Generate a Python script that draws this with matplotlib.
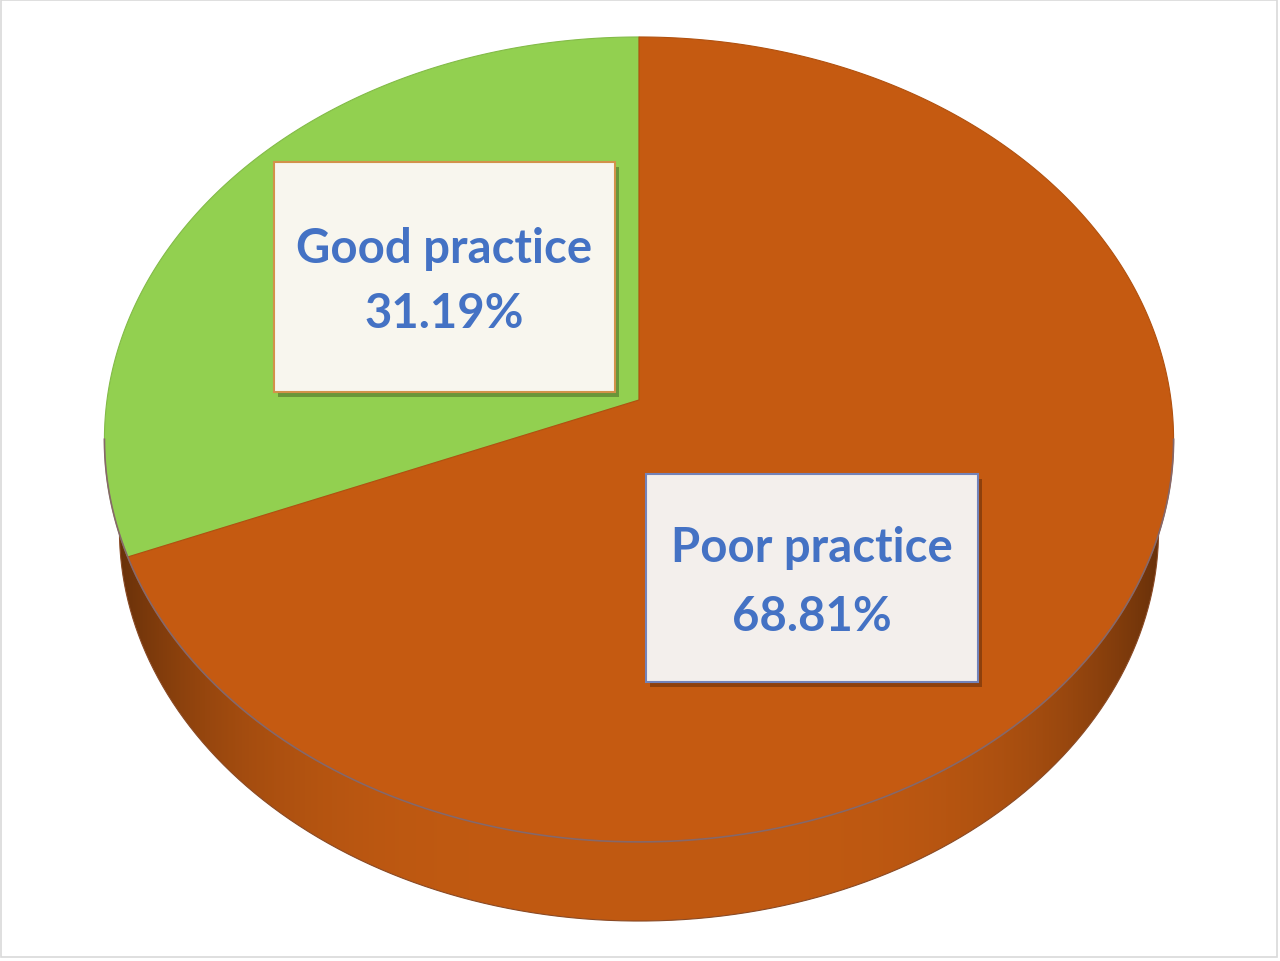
import numpy as np
import matplotlib
matplotlib.use('Agg')
import matplotlib.pyplot as plt
from matplotlib.patches import Polygon, Rectangle

# data
labels = ['Good practice', 'Poor practice']
shares = [31.19, 68.81]
top_colors = ['#92D050', '#C55A11']
side_color = '#C15A12'

# pie geometry in pixel space (simple perspective on a tilted disc)
CX, CY = 639, 401
RX, RY = 532, 398.6
K = 0.098
# bottom face: a bit smaller and lower (farther from the eye)
CYB = 492.5
SB = 0.972


def project(theta, cy=CY, scale=1.0):
    u = np.cos(theta)
    v = -np.sin(theta)
    w = 1 - K * v
    return CX + scale * RX * u / w, cy + scale * RY * v / w


def shade(hex_color, f):
    rgb = np.array(matplotlib.colors.to_rgb(hex_color))
    return np.clip(rgb * f, 0, 1)


def extremes(cy, scale):
    th = np.linspace(np.pi / 2, 3 * np.pi / 2, 4000)
    xs, _ = project(th, cy, scale)
    left = th[np.argmin(xs)]
    th = np.linspace(3 * np.pi / 2, 5 * np.pi / 2, 4000)
    xs, _ = project(th, cy, scale)
    right = th[np.argmax(xs)]
    return left, right


fig = plt.figure(figsize=(12.8, 9.62), dpi=100)
ax = fig.add_axes([0, 0, 1, 1])
ax.set_xlim(0, 1280)
ax.set_ylim(962, 0)
ax.axis('off')

# wedge angles, counter-clockwise from 12 o'clock
starts = []
a = np.pi / 2
for s in shares:
    starts.append((a, a + s / 100 * 2 * np.pi))
    a += s / 100 * 2 * np.pi

# side of the disc
tl, tr = extremes(CY, 1.0)
bl, br = extremes(CYB, SB)
front = np.linspace(tl, tr, 800)
fx, fy = project(front)
back = np.linspace(br, bl, 800)
bx, by = project(back, CYB, SB)
side = Polygon(list(zip(fx, fy)) + list(zip(bx, by)), closed=True,
               facecolor='none', edgecolor='none')
ax.add_patch(side)

xcol = np.linspace(CX - RX - 10, CX + RX + 10, 1200)
s = np.clip((xcol - CX) / RX, -1, 1)
f = 1 - 0.5 * np.abs(s) ** 4
grad = np.array([shade(side_color, fi) for fi in f])[None, :, :]
im = ax.imshow(grad, extent=(xcol[0], xcol[-1], 960, 380), aspect='auto',
               interpolation='bilinear', zorder=1)
im.set_clip_path(side)
ax.set_xlim(0, 1280)
ax.set_ylim(962, 0)

# bottom outline
ax.plot(bx, by, color='#8A4A25', lw=0.8, zorder=2)

# top face wedges
for i, (a0, a1) in enumerate(starts):
    t = np.linspace(a0, a1, 400)
    px, py = project(t)
    pts = [(CX, CY)] + list(zip(px, py))
    ax.add_patch(Polygon(pts, closed=True, facecolor=top_colors[i],
                         edgecolor=shade(top_colors[i], 0.9), lw=0.8,
                         zorder=3))

# rim line between top face and side
ax.plot(fx, fy, color='#86686A', lw=1.2, zorder=4)

# data labels
boxes = [((274, 163), 341, 230, '#F8F6EE', '#D2924A', (263, 328)),
         ((646, 475), 332, 208, '#F3EFEC', '#7383B9', (562, 631))]
for i, (xy, w, h, fc, ec, baselines) in enumerate(boxes):
    ax.add_patch(Rectangle((xy[0] + 4, xy[1] + 5), w, h,
                           facecolor='black', alpha=0.28, lw=0, zorder=5))
    ax.add_patch(Rectangle(xy, w, h, facecolor=fc, edgecolor=ec, lw=1.5,
                           zorder=6))
    cx = xy[0] + w / 2
    ax.text(cx, baselines[0], labels[i], ha='center', va='baseline',
            fontsize=34, fontweight='bold', family='Lato', color='#4472C4',
            zorder=7)
    ax.text(cx, baselines[1], f'{shares[i]:.2f}%', ha='center',
            va='baseline', fontsize=34, fontweight='bold', family='Lato',
            color='#4472C4', zorder=7)

# chart frame
ax.add_patch(Rectangle((1, 1), 1276, 957, facecolor='none',
                       edgecolor='#D9D9D9', lw=1.2, zorder=8))

fig.savefig('out.png', dpi=100)
